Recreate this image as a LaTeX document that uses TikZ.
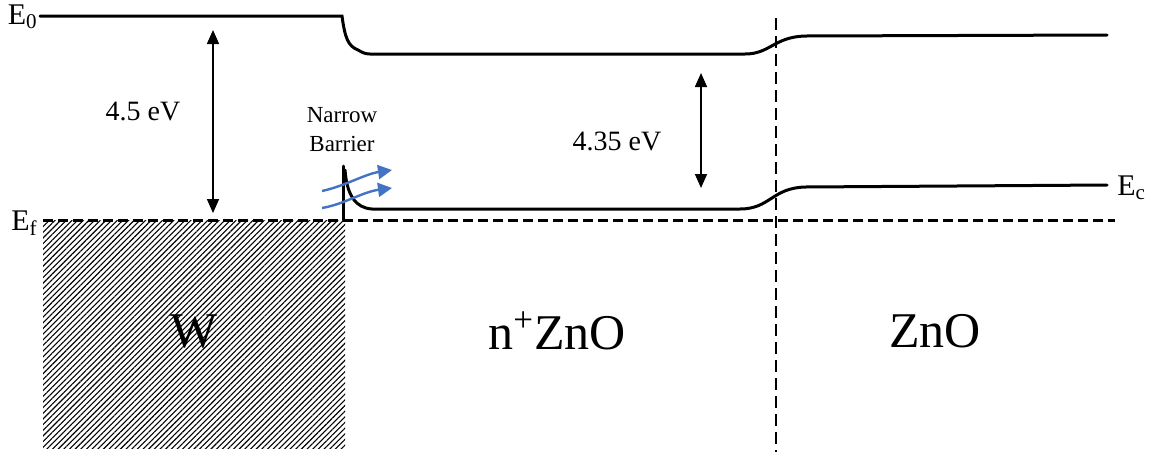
\documentclass[tikz,border=0pt]{standalone}
\usepackage{fontspec}
\setmainfont{Liberation Serif}
\newfontfamily\tnr{Liberation Serif}
\usetikzlibrary{patterns.meta,arrows.meta}
\definecolor{flowblue}{RGB}{68,114,196}
\tikzset{
  band/.style={line width=1.5pt, line cap=round},
  fermi/.style={line width=1.5pt, dash pattern=on 5pt off 2.5pt},
  divider/.style={line width=1.3pt, dash pattern=on 6pt off 3pt},
  gap/.style={line width=0.8pt, {Triangle[length=7pt,width=6pt]}-{Triangle[length=7pt,width=6pt]}},
  tunnel/.style={line width=1.2pt, draw=flowblue, -{Triangle[length=7pt,width=7pt,fill=flowblue]}},
  lvl/.style={font=\tnr\fontsize{15pt}{17pt}\selectfont, inner sep=0pt},
  evlbl/.style={font=\tnr\fontsize{14pt}{16pt}\selectfont, inner sep=0pt},
  region/.style={font=\tnr\fontsize{25pt}{28pt}\selectfont, inner sep=0pt},
  small/.style={font=\tnr\fontsize{11.5pt}{14.5pt}\selectfont, align=center, inner sep=0pt}
}
\begin{document}
\begin{tikzpicture}[x=0.5pt,y=-0.5pt]
\useasboundingbox (0,0) rectangle (1153,462);
% metal
\path[pattern={Lines[angle=45,distance=2pt,line width=0.55pt]}] (43,220) rectangle (345,448);
% Fermi level
\coordinate (efL) at (43,220);
\coordinate (efR) at (1115,220);
\draw[fermi] (efL) -- (efR);
% interface divider
\coordinate (divT) at (776,18);
\coordinate (divB) at (776,452);
\draw[divider] (divT) -- (divB);
% vacuum level
\draw[band] (40,16) -- (342,16) .. controls (345,38) and (348,46) .. (358,50)
  .. controls (362,52) and (364,54) .. (370,54)
  -- (745,54) .. controls (770,54) and (774,37) .. (805,36) -- (1107,35);
% conduction band
\draw[band] (343,220) -- (343,166);
\draw[band] (345,170) .. controls (347,196) and (356,208) .. (372,209)
  -- (740,209) .. controls (770,209) and (772,188) .. (805,187) -- (1107,185);
% labels of levels
\node[lvl,anchor=east] (E0) at (38,17) {E\textsubscript{0}};
\node[lvl,anchor=east] (Ef) at (38,223) {E\textsubscript{f}};
\node[lvl,anchor=west] (Ec) at (1117,188) {E\textsubscript{c}};
% energy arrows
\coordinate (a1t) at (213,30);
\coordinate (a1b) at (213,213);
\draw[gap] (a1t) -- (a1b);
\node[evlbl] (ev1) at (143,111) {4.5 eV};
\coordinate (a2t) at (701,73);
\coordinate (a2b) at (701,188);
\draw[gap] (a2t) -- (a2b);
\node[evlbl] (ev2) at (617,141) {4.35 eV};
% narrow barrier
\node[small] (nb) at (342,130) {Narrow\\Barrier};
\coordinate (t1s) at (322,191);
\coordinate (t1e) at (392,170);
\coordinate (t2s) at (322,208);
\coordinate (t2e) at (392,188);
\draw[tunnel] (t1s) .. controls (345,186) and (365,174) .. (t1e);
\draw[tunnel] (t2s) .. controls (345,204) and (362,192) .. (t2e);
% region labels
\node[region] (W) at (194,331) {W};
\node[region] (nZnO) at (557,331) {n\textsuperscript{+}ZnO};
\node[region] (ZnO) at (935,331) {ZnO};
\end{tikzpicture}
\end{document}
